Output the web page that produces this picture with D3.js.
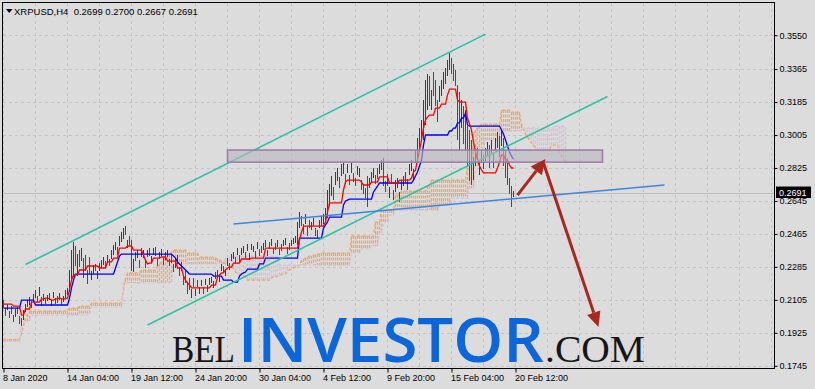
<!DOCTYPE html>
<html><head><meta charset="utf-8">
<script src="https://cdn.jsdelivr.net/npm/d3@7"></script>
<style>html,body{margin:0;padding:0;background:#dcdcdc;}svg{display:block;}</style>
</head><body>
<svg id="c" width="815" height="389"></svg>
<script>
// ---------------- DATA ----------------
const title = "XRPUSD,H4  0.2699 0.2700 0.2667 0.2691";
const lastPrice = 0.2691;
const yTicks = [0.3550,0.3365,0.3185,0.3005,0.2825,0.2645,0.2465,0.2285,0.2105,0.1925,0.1745];
const xTickLabels = ["8 Jan 2020","14 Jan 04:00","19 Jan 12:00","24 Jan 20:00","30 Jan 04:00","4 Feb 12:00","9 Feb 20:00","15 Feb 04:00","20 Feb 12:00"];
const xTickBars = [0,32,64,96,128,160,192,224,256];

const highs = [
.2104,.2060,.2082,.2044,.2071,.2022,.2055,.2066,.2017,.2006,
.2049,.2082,.2104,.2120,.2099,.2137,.2159,.2126,.2175,.2120,
.2137,.2115,.2131,.2142,.2104,.2148,.2115,.2126,.2142,.2110,
.2126,.2159,.2170,.2268,.2377,.2421,.2399,.2355,.2377,.2388,
.2333,.2350,.2268,.2339,.2262,.2295,.2301,.2262,.2306,.2322,
.2339,.2317,.2350,.2328,.2377,.2404,.2421,.2393,.2453,.2475,
.2497,.2508,.2432,.2453,.2432,.2328,.2366,.2377,.2322,.2388,
.2377,.2322,.2377,.2388,.2344,.2388,.2393,.2328,.2366,.2383,
.2333,.2366,.2377,.2328,.2355,.2301,.2333,.2350,.2284,.2312,
.2241,.2268,.2197,.2224,.2164,.2224,.2164,.2213,.2175,.2213,
.2175,.2219,.2186,.2224,.2230,.2208,.2257,.2268,.2246,.2301,
.2290,.2273,.2333,.2306,.2355,.2366,.2339,.2388,.2350,.2388,
.2399,.2366,.2410,.2361,.2410,.2399,.2371,.2421,.2383,.2399,
.2415,.2432,.2377,.2421,.2437,.2388,.2415,.2432,.2383,.2410,
.2432,.2442,.2393,.2415,.2432,.2442,.2453,.2530,.2584,.2563,
.2519,.2574,.2508,.2541,.2530,.2552,.2497,.2486,.2541,.2563,
.2574,.2606,.2705,.2737,.2781,.2721,.2803,.2825,.2776,.2847,
.2852,.2792,.2847,.2787,.2852,.2798,.2770,.2836,.2825,.2759,
.2737,.2715,.2781,.2770,.2803,.2825,.2787,.2825,.2847,.2868,
.2879,.2754,.2792,.2721,.2792,.2705,.2759,.2770,.2694,.2759,
.2781,.2803,.2765,.2847,.2868,.2820,.2923,.2988,.3043,.3087,
.3196,.3305,.3338,.3327,.3250,.3349,.3305,.3196,.3272,.3305,
.3349,.3371,.3414,.3453,.3425,.3393,.3360,.3278,.3240,.3196,
.3163,.3141,.3054,.3032,.2978,.2885,.2923,.2934,.2868,.2923,
.2896,.2934,.2967,.2950,.2978,.2901,.2988,.3021,.2999,.3032,
.2988,.2923,.2879,.2770,.2726,.2700];

const lows = [
.2060,.2017,.2049,.2006,.2028,.1984,.2011,.2028,.1973,.1962,
.1995,.2038,.2066,.2077,.2060,.2093,.2115,.2093,.2126,.2071,
.2099,.2082,.2099,.2104,.2071,.2115,.2082,.2088,.2104,.2077,
.2093,.2115,.2131,.2148,.2213,.2230,.2290,.2235,.2284,.2317,
.2224,.2262,.2191,.2246,.2213,.2246,.2262,.2219,.2262,.2279,
.2295,.2279,.2306,.2290,.2328,.2350,.2377,.2350,.2399,.2421,
.2437,.2459,.2388,.2404,.2262,.2257,.2317,.2333,.2279,.2339,
.2333,.2279,.2339,.2344,.2306,.2350,.2344,.2290,.2328,.2344,
.2295,.2322,.2339,.2290,.2306,.2257,.2279,.2301,.2235,.2262,
.2186,.2197,.2137,.2159,.2115,.2175,.2126,.2175,.2137,.2180,
.2137,.2186,.2148,.2186,.2197,.2170,.2219,.2230,.2202,.2262,
.2252,.2235,.2290,.2268,.2317,.2328,.2301,.2350,.2312,.2350,
.2361,.2333,.2371,.2322,.2377,.2366,.2333,.2383,.2344,.2361,
.2377,.2393,.2344,.2383,.2399,.2355,.2377,.2393,.2350,.2371,
.2399,.2404,.2355,.2377,.2399,.2410,.2415,.2404,.2497,.2508,
.2464,.2519,.2453,.2497,.2486,.2508,.2453,.2442,.2497,.2508,
.2519,.2541,.2552,.2617,.2672,.2650,.2732,.2754,.2715,.2781,
.2792,.2737,.2798,.2732,.2798,.2748,.2726,.2787,.2776,.2705,
.2683,.2661,.2612,.2715,.2748,.2770,.2737,.2765,.2792,.2814,
.2726,.2694,.2726,.2661,.2737,.2650,.2694,.2715,.2639,.2705,
.2726,.2748,.2705,.2787,.2809,.2759,.2852,.2879,.2934,.2978,
.2978,.3060,.3141,.3163,.3141,.3218,.3163,.3076,.3185,.3218,
.3256,.3283,.3327,.3360,.3338,.3300,.3272,.2978,.2923,.3043,
.2956,.2923,.2836,.2754,.2732,.2759,.2836,.2858,.2787,.2852,
.2820,.2863,.2885,.2825,.2907,.2825,.2923,.2934,.2885,.2945,
.2836,.2770,.2732,.2683,.2612,.2667];

const barUp = [
0,0,1,0,0,0,1,0,0,0, 1,1,1,1,0,1,1,0,1,0, 1,0,1,0,1,1,0,0,1,0, 1,1,1,1,1,1,0,1,0,1,
0,0,0,0,1,1,0,1,1,1, 1,0,1,0,1,1,1,0,1,1, 1,0,1,0,0,1,0,1,0,1, 1,0,1,0,1,1,0,0,1,1,
0,1,1,0,0,0,1,1,0,0, 0,0,0,0,1,0,1,0,1,1, 0,1,0,1,1,1,0,1,1,1, 0,1,1,0,1,1,0,1,0,1,
1,0,1,0,1,1,0,1,0,0, 1,1,0,0,1,0,0,1,0,0, 1,1,0,0,1,1,1,1,1,0, 0,1,0,0,1,1,0,0,1,1,
1,1,1,1,1,0,1,1,0,1, 1,0,1,0,1,0,0,1,1,0, 0,0,0,1,1,1,0,0,1,1, 0,0,0,1,0,0,1,1,0,1,
1,1,0,1,1,0,1,1,1,1, 1,1,1,0,1,0,0,0,1,1, 1,1,1,1,0,0,0,0,0,1, 0,0,0,0,0,1,1,0,1,1,
0,1,1,0,1,0,1,1,0,1, 0,0,0,0,0,1];

const tenkan = [
.2082,.2082,.2082,.2082,.2082,.2071,.2071,.2071,.2071,.2022,
.2022,.2055,.2055,.2055,.2093,.2093,.2093,.2093,.2093,.2110,
.2110,.2115,.2115,.2110,.2104,.2104,.2110,.2110,.2115,.2110,
.2110,.2110,.2115,.2159,.2213,.2241,.2241,.2241,.2268,.2268,
.2268,.2268,.2290,.2290,.2290,.2290,.2290,.2290,.2279,.2279,
.2279,.2279,.2312,.2312,.2312,.2333,.2333,.2333,.2388,.2388,
.2388,.2388,.2399,.2399,.2399,.2377,.2377,.2377,.2377,.2377,
.2350,.2322,.2301,.2306,.2306,.2333,.2333,.2333,.2333,.2339,
.2339,.2339,.2317,.2317,.2317,.2317,.2317,.2279,.2279,.2279,
.2235,.2213,.2197,.2186,.2170,.2170,.2170,.2170,.2170,.2170,
.2170,.2170,.2170,.2170,.2186,.2186,.2186,.2230,.2241,.2252,
.2252,.2268,.2279,.2284,.2284,.2306,.2306,.2306,.2306,.2328,
.2328,.2328,.2328,.2328,.2333,.2333,.2333,.2333,.2333,.2333,
.2333,.2388,.2388,.2388,.2388,.2388,.2388,.2388,.2388,.2388,
.2388,.2388,.2388,.2388,.2388,.2388,.2388,.2388,.2432,.2475,
.2508,.2508,.2508,.2508,.2508,.2508,.2508,.2508,.2508,.2508,
.2508,.2530,.2584,.2634,.2634,.2634,.2634,.2634,.2634,.2634,
.2705,.2748,.2759,.2759,.2759,.2759,.2759,.2759,.2759,.2748,
.2732,.2732,.2732,.2732,.2748,.2748,.2748,.2748,.2776,.2776,
.2776,.2776,.2776,.2743,.2743,.2743,.2743,.2743,.2759,.2759,
.2759,.2759,.2759,.2759,.2770,.2803,.2814,.2868,.2923,.2978,
.3043,.3087,.3103,.3114,.3114,.3114,.3152,.3152,.3152,.3174,
.3174,.3174,.3223,.3256,.3256,.3256,.3256,.3196,.3185,.3185,
.3185,.3185,.3098,.3065,.3032,.2967,.2912,.2868,.2836,.2814,
.2798,.2798,.2798,.2798,.2798,.2798,.2798,.2825,.2857,.2896,
.2896,.2868,.2868,.2841,.2825,.2825];

const kijun = [
.2060,.2060,.2060,.2060,.2060,.2060,.2060,.2060,.2060,.2104,
.2104,.2104,.2104,.2104,.2104,.2104,.2077,.2077,.2077,.2077,
.2077,.2077,.2077,.2077,.2077,.2077,.2077,.2077,.2077,.2077,
.2077,.2077,.2077,.2115,.2170,.2213,.2246,.2246,.2246,.2246,
.2246,.2246,.2246,.2246,.2246,.2246,.2246,.2246,.2246,.2246,
.2246,.2246,.2246,.2246,.2246,.2246,.2279,.2312,.2344,.2355,
.2355,.2355,.2355,.2355,.2355,.2355,.2355,.2355,.2355,.2355,
.2355,.2355,.2355,.2355,.2355,.2355,.2355,.2355,.2355,.2355,
.2355,.2355,.2355,.2355,.2355,.2344,.2333,.2312,.2301,.2290,
.2279,.2268,.2257,.2246,.2246,.2246,.2246,.2246,.2246,.2246,
.2246,.2246,.2246,.2246,.2246,.2235,.2235,.2235,.2235,.2235,
.2213,.2213,.2213,.2213,.2213,.2202,.2202,.2202,.2235,.2246,
.2252,.2257,.2273,.2273,.2273,.2273,.2273,.2273,.2301,.2301,
.2301,.2333,.2333,.2333,.2333,.2333,.2333,.2333,.2333,.2333,
.2333,.2333,.2333,.2333,.2333,.2333,.2333,.2333,.2442,.2442,
.2442,.2442,.2442,.2442,.2442,.2442,.2442,.2442,.2442,.2442,
.2497,.2514,.2530,.2557,.2557,.2557,.2557,.2557,.2557,.2557,
.2623,.2645,.2650,.2655,.2655,.2655,.2655,.2655,.2655,.2655,
.2655,.2655,.2655,.2655,.2655,.2694,.2710,.2726,.2743,.2743,
.2743,.2743,.2743,.2743,.2743,.2743,.2743,.2743,.2743,.2743,
.2743,.2743,.2743,.2743,.2743,.2759,.2781,.2803,.2836,.2868,
.2950,.3005,.3005,.3005,.3005,.3005,.3005,.3005,.3005,.3005,
.3005,.3005,.3005,.3027,.3027,.3043,.3043,.3071,.3071,.3098,
.3098,.3125,.3060,.3054,.3054,.3054,.3054,.3054,.3054,.3054,
.3054,.3054,.3054,.3054,.3054,.3054,.3054,.3054,.3054,.3032,
.3010,.2978,.2945,.2912,.2890,.2874];

const spanA = [
.1890,.1890,.1890,.1890,.1890,.1890,.1890,.1890,.1890,.1918,
.1962,.2006,.2028,.2044,.2044,.2044,.2044,.2044,.2044,.2044,
.2044,.2044,.2044,.2044,.2044,.2044,.2044,.2044,.2044,.2044,
.2044,.2044,.2044,.2060,.2060,.2060,.2060,.2060,.2071,.2071,
.2071,.2071,.2071,.2071,.2088,.2088,.2088,.2088,.2088,.2088,
.2088,.2088,.2088,.2088,.2088,.2088,.2088,.2088,.2088,.2088,
.2159,.2219,.2252,.2252,.2252,.2252,.2252,.2252,.2252,.2268,
.2268,.2268,.2268,.2268,.2268,.2268,.2268,.2290,.2301,.2312,
.2322,.2333,.2344,.2355,.2366,.2377,.2377,.2377,.2377,.2377,
.2377,.2377,.2361,.2361,.2361,.2361,.2361,.2361,.2339,.2339,
.2339,.2339,.2339,.2339,.2339,.2339,.2333,.2328,.2322,.2317,
.2312,.2301,.2295,.2290,.2284,.2279,.2257,.2246,.2241,.2235,
.2230,.2224,.2213,.2213,.2213,.2213,.2213,.2213,.2213,.2213,
.2213,.2213,.2213,.2213,.2224,.2230,.2230,.2235,.2241,.2241,
.2246,.2246,.2262,.2268,.2273,.2279,.2284,.2290,.2295,.2322,
.2328,.2333,.2339,.2344,.2344,.2350,.2350,.2355,.2355,.2361,
.2361,.2361,.2361,.2361,.2361,.2361,.2361,.2361,.2361,.2361,
.2361,.2361,.2361,.2361,.2453,.2453,.2453,.2453,.2453,.2453,
.2453,.2453,.2453,.2453,.2453,.2453,.2530,.2530,.2530,.2595,
.2595,.2595,.2595,.2595,.2595,.2595,.2677,.2677,.2677,.2699,
.2699,.2699,.2699,.2699,.2699,.2699,.2699,.2699,.2699,.2699,
.2699,.2699,.2726,.2726,.2759,.2759,.2759,.2759,.2759,.2759,
.2759,.2759,.2759,.2759,.2759,.2759,.2759,.2759,.2759,.2759,
.2759,.2759,.2825,.2825,.2825,.3010,.3032,.3043,.3054,.3065,
.3065,.3065,.3065,.3065,.3065,.3065,.3065,.3065,.3065,.3141,
.3141,.3141,.3141,.3141,.3130,.3130,.3130,.3130,.3130,.3060,
.3043,.3010,.2994,.2978,.2961,.2945,.2934,.2923,.2923,.2923,
.2923,.2923,.2923,.2923,.2950,.2950,.2950,.2950,.2912,.2890,
.2874,.2857];

const spanB = [
.1879,.1879,.1879,.1879,.1879,.1879,.1879,.1879,.1879,.1989,
.1989,.1989,.1989,.1989,.2022,.2022,.2022,.2022,.2022,.2022,
.2022,.2022,.2022,.2022,.2022,.2022,.2022,.2022,.2022,.2022,
.2022,.2022,.2022,.2022,.2022,.2022,.2022,.2022,.2022,.2022,
.2022,.2022,.2022,.2022,.2066,.2066,.2066,.2066,.2066,.2066,
.2066,.2066,.2066,.2066,.2066,.2066,.2066,.2066,.2066,.2066,
.2197,.2197,.2197,.2197,.2197,.2197,.2197,.2197,.2197,.2197,
.2197,.2197,.2197,.2197,.2197,.2197,.2197,.2197,.2197,.2197,
.2197,.2197,.2197,.2197,.2197,.2301,.2301,.2301,.2301,.2301,
.2301,.2301,.2301,.2301,.2301,.2301,.2301,.2301,.2301,.2301,
.2301,.2301,.2301,.2301,.2301,.2301,.2301,.2301,.2301,.2301,
.2301,.2333,.2333,.2333,.2333,.2344,.2344,.2344,.2344,.2344,
.2344,.2344,.2344,.2344,.2344,.2344,.2344,.2344,.2344,.2344,
.2344,.2344,.2344,.2344,.2344,.2344,.2344,.2344,.2295,.2295,
.2295,.2295,.2295,.2295,.2295,.2295,.2295,.2295,.2295,.2295,
.2295,.2295,.2295,.2295,.2295,.2295,.2295,.2295,.2295,.2295,
.2295,.2295,.2295,.2295,.2295,.2295,.2295,.2295,.2295,.2295,
.2295,.2295,.2295,.2295,.2361,.2361,.2361,.2361,.2361,.2383,
.2383,.2383,.2383,.2383,.2399,.2399,.2399,.2399,.2470,.2470,
.2530,.2530,.2530,.2568,.2568,.2568,.2595,.2595,.2595,.2595,
.2595,.2595,.2595,.2595,.2595,.2595,.2595,.2595,.2595,.2595,
.2595,.2595,.2595,.2595,.2595,.2595,.2595,.2595,.2623,.2623,
.2623,.2623,.2623,.2623,.2661,.2661,.2661,.2661,.2661,.2661,
.2661,.2661,.2661,.2715,.2715,.2715,.2836,.2836,.2934,.2934,
.2934,.2978,.2978,.2978,.2978,.2978,.2978,.2978,.2978,.3027,
.3027,.3027,.3027,.3027,.3027,.3027,.3027,.3027,.3027,.3027,
.3043,.3043,.3043,.3043,.3043,.3043,.3043,.3043,.3043,.3043,
.3043,.3043,.3043,.3043,.3043,.3043,.3054,.3054,.3054,.3054,
.3054,.3054];

// hand-drawn objects, in (bar index, price)
const channelTop = [[11,0.2298],[241,0.3556]];
const channelBottom = [[72,0.1968],[302,0.3215]];
const supportLine = [[115,0.2519],[330.5,0.2732]];
const zoneBox = [[112,0.2923],[299.5,0.2857]];
const arrowUp = [[257,0.2677],[271,0.2874]];
const arrowDown = [[270,0.2852],[297.5,0.1957]];

// ---------------- DRAW ----------------
const W = 815, H = 389;
const x = d3.scaleLinear().domain([0, 384]).range([3.5, 771.5]);
const y = d3.scaleLinear().domain([0.1745, 0.3550]).range([365.8, 35.2]);
const svg = d3.select("#c");
const FONT = "'Liberation Sans', Arial, sans-serif";

svg.append("rect").attr("width", W).attr("height", H).attr("fill", "#dcdcdc");

// grid
const grid = svg.append("g").attr("stroke", "#c4c4c4").attr("stroke-dasharray", "3,3")
  .attr("shape-rendering", "crispEdges");
grid.selectAll("line.h").data(yTicks).join("line").attr("class", "h")
  .attr("x1", 3).attr("x2", 774)
  .attr("y1", d => Math.round(y(d)) + 0.5).attr("y2", d => Math.round(y(d)) + 0.5);
grid.selectAll("line.v").data(d3.range(0, 385, 16)).join("line").attr("class", "v")
  .attr("x1", d => x(d)).attr("x2", d => x(d)).attr("y1", 3).attr("y2", 368);

// last price line
svg.append("line").attr("x1", 3).attr("x2", 774)
  .attr("y1", Math.round(y(lastPrice)) + 0.5).attr("y2", Math.round(y(lastPrice)) + 0.5)
  .attr("stroke", "#bdbdbd").attr("shape-rendering", "crispEdges");

// cloud (dotted histogram between the two spans)
const cloud = svg.append("g").attr("stroke-dasharray", "3,1.5").attr("stroke-width", 1.25);
cloud.selectAll("line").data(spanA).join("line")
  .attr("x1", (d, i) => x(i)).attr("x2", (d, i) => x(i))
  .attr("y1", d => y(d)).attr("y2", (d, i) => y(spanB[i]))
  .attr("stroke", (d, i) => d >= spanB[i] ? "#F4A460" : "#D8BFD8");
const ln = d3.line().x((d, i) => x(i)).y(d => y(d));
svg.append("path").attr("d", ln(spanA)).attr("fill", "none").attr("stroke", "#F4A460")
  .attr("stroke-width", 1.2).attr("stroke-dasharray", "3,2");
svg.append("path").attr("d", ln(spanB)).attr("fill", "none").attr("stroke", "#D8BFD8")
  .attr("stroke-width", 1.2).attr("stroke-dasharray", "3,2");

// bars
svg.append("g").attr("shape-rendering", "crispEdges").selectAll("line").data(highs).join("line")
  .attr("x1", (d, i) => x(i)).attr("x2", (d, i) => x(i))
  .attr("y1", d => y(d)).attr("y2", (d, i) => y(lows[i]))
  .attr("stroke", (d, i) => barUp[i] ? "#2f4343" : "#ff0000");

// tenkan / kijun
svg.append("path").attr("d", ln(kijun)).attr("fill", "none").attr("stroke", "#0000ff").attr("stroke-width", 1.3);
svg.append("path").attr("d", ln(tenkan)).attr("fill", "none").attr("stroke", "#ff0000").attr("stroke-width", 1.3);

// trend lines
function seg(pts, color, w) {
  svg.append("line").attr("x1", x(pts[0][0])).attr("y1", y(pts[0][1]))
    .attr("x2", x(pts[1][0])).attr("y2", y(pts[1][1]))
    .attr("stroke", color).attr("stroke-width", w);
}
seg(channelTop, "#2cc3a2", 1.6);
seg(channelBottom, "#2cc3a2", 1.6);
seg(supportLine, "#3f84e4", 1.6);

// zone rectangle
svg.append("rect")
  .attr("x", x(zoneBox[0][0])).attr("y", y(zoneBox[0][1]))
  .attr("width", x(zoneBox[1][0]) - x(zoneBox[0][0]))
  .attr("height", y(zoneBox[1][1]) - y(zoneBox[0][1]))
  .attr("fill", "#b6b6be").attr("fill-opacity", 0.62)
  .attr("stroke", "#9a7aaa").attr("stroke-width", 1.5);

// arrows
function arrow(pts, color) {
  const x1 = x(pts[0][0]), y1 = y(pts[0][1]), x2 = x(pts[1][0]), y2 = y(pts[1][1]);
  const a = Math.atan2(y2 - y1, x2 - x1), L = 15, hw = 7;
  const bx = x2 - L * Math.cos(a), by = y2 - L * Math.sin(a);
  svg.append("line").attr("x1", x1).attr("y1", y1).attr("x2", bx).attr("y2", by)
    .attr("stroke", color).attr("stroke-width", 3);
  svg.append("path").attr("fill", color)
    .attr("d", `M${x2},${y2}L${bx + hw * Math.sin(a)},${by - hw * Math.cos(a)}L${bx - hw * Math.sin(a)},${by + hw * Math.cos(a)}Z`);
}
arrow(arrowUp, "#a8281e");
arrow(arrowDown, "#a8281e");

// watermark
const wm = svg.append("g");
wm.append("text").attr("x", 172).attr("y", 362).attr("font-family", "'Liberation Serif', 'Times New Roman', serif")
  .attr("font-size", 37).attr("fill", "#161616").attr("textLength", 63).attr("lengthAdjust", "spacingAndGlyphs").text("BEL");
wm.append("text").attr("x", 238).attr("y", 362).attr("font-family", "'Open Sans', 'Noto Sans', sans-serif")
  .attr("font-weight", 600).attr("font-size", 61).attr("fill", "#0b66d9")
  .attr("textLength", 306).attr("lengthAdjust", "spacingAndGlyphs").text("INVESTOR");
wm.append("text").attr("x", 545).attr("y", 362).attr("font-family", "'Liberation Serif', 'Times New Roman', serif")
  .attr("font-size", 37).attr("fill", "#161616").attr("textLength", 100).attr("lengthAdjust", "spacingAndGlyphs").text(".COM");

// border
svg.append("rect").attr("x", 2.5).attr("y", 2.5).attr("width", 772).attr("height", 366)
  .attr("fill", "none").attr("stroke", "#000").attr("shape-rendering", "crispEdges");

// axes
const yAxis = d3.axisRight(y).tickValues(yTicks).tickSize(3).tickPadding(2).tickFormat(d3.format(".4f"));
const gy = svg.append("g").attr("transform", "translate(774.5,0)").call(yAxis);
gy.select(".domain").remove();
gy.selectAll("text").attr("font-family", FONT).attr("font-size", 9).attr("fill", "#000");
gy.selectAll("line").attr("stroke", "#000");

const xAxis = d3.axisBottom(x).tickValues(xTickBars).tickSize(4).tickPadding(2).tickFormat((d, i) => xTickLabels[i]);
const gx = svg.append("g").attr("transform", "translate(0,368.5)").call(xAxis);
gx.select(".domain").remove();
gx.selectAll("text").attr("font-family", FONT).attr("font-size", 9).attr("fill", "#000")
  .attr("text-anchor", "start").attr("x", -1);
gx.selectAll("line").attr("stroke", "#000");

// last price label
const yl = y(lastPrice);
svg.append("rect").attr("x", 776).attr("y", yl - 6).attr("width", 35).attr("height", 11.5).attr("fill", "#000");
svg.append("text").attr("x", 779).attr("y", yl + 3.3).attr("font-family", FONT).attr("font-size", 9)
  .attr("fill", "#fff").text(d3.format(".4f")(lastPrice));

// title
svg.append("path").attr("d", "M6,9L12.5,9L9.25,13Z").attr("fill", "#000");
svg.append("text").attr("x", 14).attr("y", 14.5).attr("font-family", FONT).attr("font-size", 9.5)
  .attr("fill", "#000").attr("xml:space", "preserve").style("white-space", "pre").text(title);
</script>
</body></html>
